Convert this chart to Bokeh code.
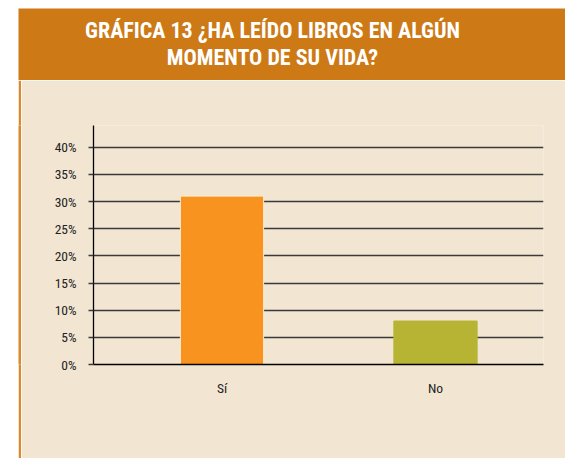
from bokeh.plotting import figure
from bokeh.models import Range1d, FixedTicker, Label, ColumnDataSource, Spacer
from bokeh.layouts import column, row
from bokeh.embed import file_html
from bokeh.resources import INLINE

# ---- data ----
title_lines = ["GRÁFICA 13 ¿HA LEÍDO LIBROS EN ALGÚN", "MOMENTO DE SU VIDA?"]
categories = ["Sí", "No"]
values = [31, 8]
bar_colors = ["#F7931E", "#B8B433"]
bar_outlines = ["#FDEBD0", "#B8B433"]
y_ticks = [0, 5, 10, 15, 20, 25, 30, 35, 40]
y_tick_labels = ["0%", "5%", "10%", "15%", "20%", "25%", "30%", "35%", "40%"]

FONT = "'Roboto Condensed', 'DejaVu Sans Condensed', sans-serif"
TITLE_FONT = "'Roboto Condensed', Roboto, sans-serif"
BEIGE = "#F2E6D3"
HEADER = "#CC7916"
BORDER = "#D88A2E"


def plain(w, h, color, **kw):
    f = figure(width=w, height=h, output_backend="svg", toolbar_location=None,
               x_axis_type=None, y_axis_type=None, min_border=0, **kw)
    f.background_fill_color = color
    f.border_fill_color = color
    f.outline_line_color = None
    f.grid.visible = False
    return f


# ---- header band with title ----
header = plain(547, 72, HEADER, x_range=Range1d(0, 547), y_range=Range1d(72, 0))
for i, t in enumerate(title_lines):
    header.add_layout(Label(x=254, y=22 + 27 * i, text=t, text_align="center",
                            text_baseline="middle", text_color="white",
                            text_font=TITLE_FONT, text_font_style="bold",
                            text_font_size="22px"))

# ---- left orange border ----
left_border = plain(3, 378, BORDER, x_range=Range1d(0, 1), y_range=Range1d(0, 1))

# ---- main chart ----
xs = [i + 0.5 for i in range(len(categories))]
src = ColumnDataSource(dict(x=xs, top=values, color=bar_colors, line=bar_outlines))

p = figure(width=544, height=378,
           x_range=Range1d(-0.102, 2.006), y_range=Range1d(0, 44),
           output_backend="svg", toolbar_location=None,
           min_border_left=72, min_border_right=22,
           min_border_top=45, min_border_bottom=94)
p.background_fill_color = BEIGE
p.border_fill_color = BEIGE
p.outline_line_color = None

p.vbar(x="x", top="top", bottom=0, width=0.39, source=src,
       fill_color="color", line_color="line", line_width=1)

p.xgrid.visible = False
p.ygrid.ticker = FixedTicker(ticks=y_ticks)
p.ygrid.grid_line_color = "#3A3A3A"
p.ygrid.grid_line_width = 1.3

p.yaxis.ticker = FixedTicker(ticks=y_ticks)
p.yaxis.major_label_overrides = {t: l for t, l in zip(y_ticks, y_tick_labels)}
p.yaxis.axis_line_color = "black"
p.yaxis.axis_line_width = 1.3
p.yaxis.major_tick_out = 5
p.yaxis.major_tick_in = 0
p.yaxis.major_tick_line_color = "#3A3A3A"
p.yaxis.major_tick_line_width = 1.3
p.yaxis.minor_tick_line_color = None
p.yaxis.major_label_standoff = 12
p.yaxis.major_label_text_font = FONT
p.yaxis.major_label_text_font_size = "13.5px"
p.yaxis.major_label_text_color = "#222222"

p.xaxis.ticker = FixedTicker(ticks=xs)
p.xaxis.major_label_overrides = {x: c for x, c in zip(xs, categories)}
p.xaxis.axis_line_color = "black"
p.xaxis.axis_line_width = 1.3
p.xaxis.major_tick_out = 0
p.xaxis.major_tick_in = 0
p.xaxis.minor_tick_line_color = None
p.xaxis.major_label_standoff = 15
p.xaxis.major_label_text_font = FONT
p.xaxis.major_label_text_font_size = "13.5px"
p.xaxis.major_label_text_color = "#222222"

layout = column(Spacer(height=8),
                row(Spacer(width=18),
                    column(header, row(left_border, p))))

open("out.html", "w").write(file_html(layout, INLINE))
